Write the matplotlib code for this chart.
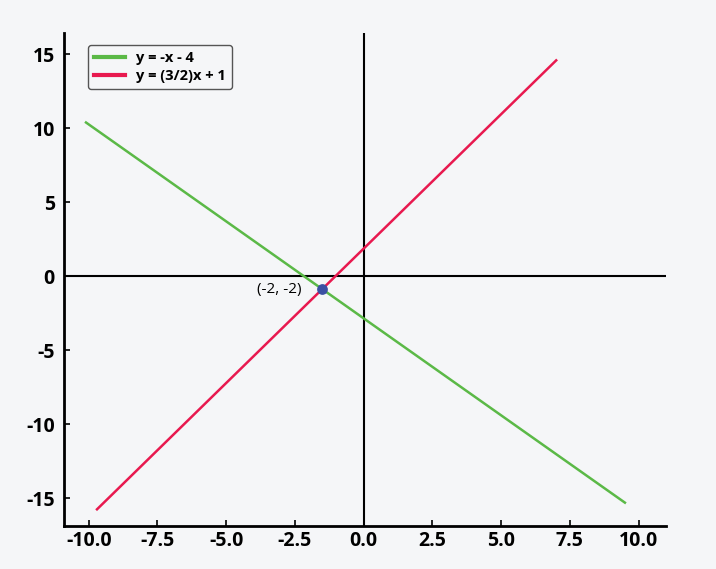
import matplotlib
matplotlib.use('Agg')
import matplotlib.pyplot as plt

# line end points
green_x = [-10.1, 9.5]
green_y = [10.4, -15.3]
red_x = [-9.7, 7.0]
red_y = [-15.75, 14.6]
point_x = [-1.51]
point_y = [-0.86]
point_label = '(-2, -2)'
labels = ['y = -x - 4', 'y = (3/2)x + 1']
xticks = [-10.0, -7.5, -5.0, -2.5, 0.0, 2.5, 5.0, 7.5, 10.0]
yticks = [-15, -10, -5, 0, 5, 10, 15]

bg = '#f5f6f8'
plt.rcParams['font.family'] = ['Open Sans', 'DejaVu Sans']

fig = plt.figure(figsize=(7.16, 5.69), dpi=100, facecolor=bg)
ax = fig.add_axes([0.0894, 0.075, 0.841, 0.867], facecolor=bg)

ax.axhline(0, color='black', lw=1.5, zorder=1)
ax.axvline(0, color='black', lw=1.5, zorder=1)
ax.plot(green_x, green_y, color='#5bb947', lw=1.8, label=labels[0], zorder=2)
ax.plot(red_x, red_y, color='#e8194f', lw=1.8, label=labels[1], zorder=2)
ax.scatter(point_x, point_y, s=45, color='#3b50a3', zorder=3)
ax.annotate(point_label, (point_x[0], point_y[0]), xytext=(-15, 0), textcoords='offset points',
            ha='right', va='center', fontsize=11)

ax.set_xlim(-10.9, 11.0)
ax.set_ylim(-16.9, 16.45)
ax.set_xticks(xticks)
ax.set_yticks(yticks)
ax.set_xticklabels(['%.1f' % v for v in xticks], fontweight='bold')
ax.set_yticklabels([str(v) for v in yticks], fontweight='bold')

for s in ['top', 'right']:
    ax.spines[s].set_visible(False)
for s in ['left', 'bottom']:
    ax.spines[s].set_linewidth(2)
ax.tick_params(direction='in', length=4, width=1.2, labelsize=14)
ax.tick_params(axis='x', pad=3.5)
ax.tick_params(axis='y', pad=6.5)

leg = ax.legend(loc='upper left', bbox_to_anchor=(0.028, 0.99), frameon=True, fancybox=True,
                edgecolor='#555555', facecolor=bg, framealpha=1, prop={'weight': 'bold', 'size': 10.5},
                handlelength=2.1, borderpad=0.4, labelspacing=0.3)
for h in leg.get_lines():
    h.set_linewidth(3)

fig.savefig('out.png', dpi=100, facecolor=bg)
